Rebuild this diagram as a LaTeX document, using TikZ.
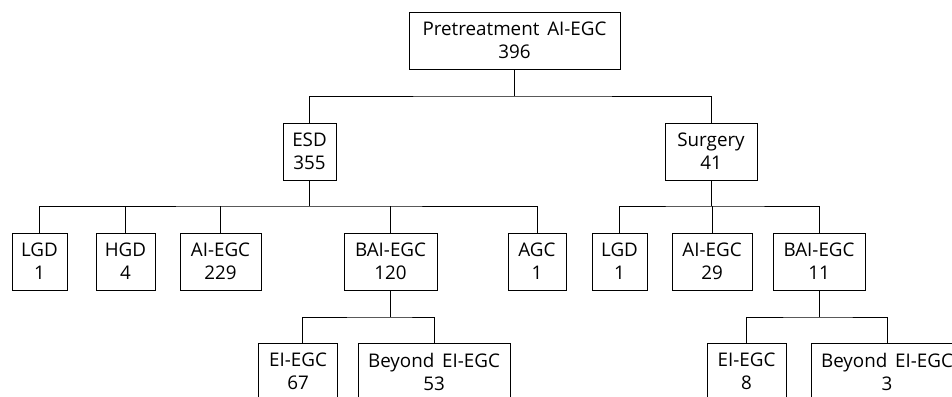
\documentclass[tikz,border=0pt]{standalone}
\usepackage{fontspec}
\setmainfont[WordSpace=1.6]{Open Sans}
\begin{document}
\begin{tikzpicture}[x=1pt,y=-1pt,
  box/.style={draw, line width=0.9pt, rectangle, minimum height=57pt, inner sep=0pt, align=center, font=\fontsize{18.8}{23}\selectfont},
  link/.style={line width=0.9pt}]
\useasboundingbox (0,0) rectangle (952,396);
\clip (0,0) rectangle (952,396);
% level 0
\node[box, minimum width=211pt] (root) at (514.5,40.5) {Pretreatment AI-EGC\\396};
% level 1
\node[box, minimum width=53pt] (esd) at (309.5,151.5) {ESD\\355};
\node[box, minimum width=92pt] (surg) at (711,151.5) {Surgery\\41};
% level 2 (ESD)
\node[box, minimum width=55pt] (lgda) at (39.5,261.5) {LGD\\1};
\node[box, minimum width=59pt] (hgd) at (125.5,261.5) {HGD\\4};
\node[box, minimum width=81pt] (aia) at (220.5,261.5) {AI-EGC\\229};
\node[box, minimum width=93pt] (baia) at (390.5,261.5) {BAI-EGC\\120};
\node[box, minimum width=58pt] (agc) at (537,261.5) {AGC\\1};
% level 2 (Surgery)
\node[box, minimum width=55pt] (lgdb) at (619.5,261.5) {LGD\\1};
\node[box, minimum width=80pt] (aib) at (712,261.5) {AI-EGC\\29};
\node[box, minimum width=92pt] (baib) at (819,261.5) {BAI-EGC\\11};
% level 3
\node[box, minimum width=79pt] (eia) at (298,371.5) {EI-EGC\\67};
\node[box, minimum width=152pt] (bya) at (434,371.5) {Beyond EI-EGC\\53};
\node[box, minimum width=79pt] (eib) at (746.5,371.5) {EI-EGC\\8};
\node[box, minimum width=152pt] (byb) at (887,371.5) {Beyond EI-EGC\\3};
% junction coordinates
\coordinate (j0) at (514.5,96);
\coordinate (j1) at (309.5,206);
\coordinate (j2) at (711,206);
\coordinate (j3) at (390.5,317);
\coordinate (j4) at (819,317);
% connectors
\draw[link] (root.south) -- (j0);
\draw[link] (esd.north) |- (j0) -| (surg.north);
\draw[link] (esd.south) -- (j1);
\draw[link] (lgda.north) |- (j1) -| (agc.north);
\draw[link] (hgd.north) -- (hgd.north |- j1);
\draw[link] (aia.north) -- (aia.north |- j1);
\draw[link] (baia.north) -- (baia.north |- j1);
\draw[link] (surg.south) -- (j2);
\draw[link] (lgdb.north) |- (j2) -| (baib.north);
\draw[link] (aib.north) -- (aib.north |- j2);
\draw[link] (baia.south) -- (j3);
\draw[link] ([xshift=4pt]eia.north) |- (j3) -| (bya.north);
\draw[link] (baib.south) -- (j4);
\draw[link] (eib.north) |- (j4) -| (byb.north);
\end{tikzpicture}
\end{document}
